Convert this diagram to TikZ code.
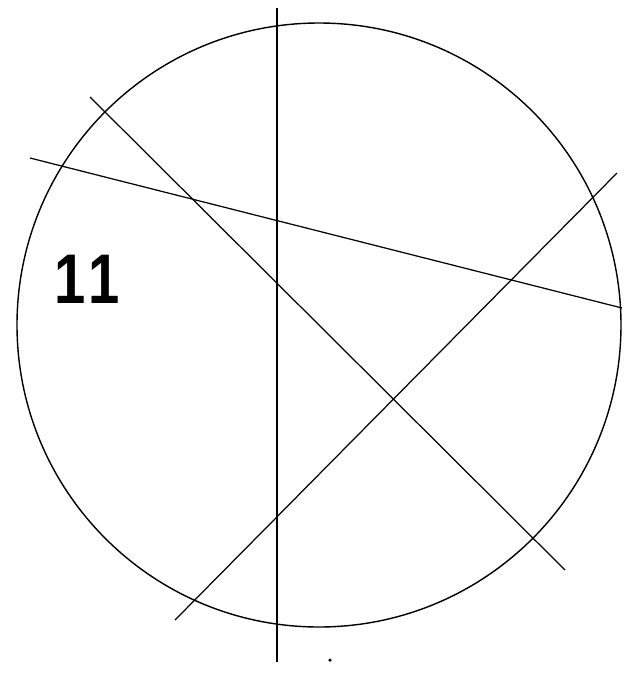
\documentclass[tikz,border=0pt]{standalone}
\usepackage{fontspec}
\setmainfont{Liberation Sans}
\begin{document}
\begin{tikzpicture}[
  x=0.02cm, y=-0.02cm,
  rim/.style={draw=black, line width=0.8pt},
  chord/.style={draw=black, line width=0.7pt},
  num/.style={font=\bfseries\fontsize{40}{40}\selectfont, inner sep=0pt},
  speck/.style={fill=black, inner sep=0pt, minimum size=2pt, circle}
]
\useasboundingbox (0,0) rectangle (626,674);

% circle and end points of the chords
\coordinate (ctr) at (319,325);
\coordinate (vtop) at (277,8);
\coordinate (vbot) at (277,662);
\coordinate (aw) at (30,158);
\coordinate (ae) at (622,308);
\coordinate (bnw) at (90,97);
\coordinate (bse) at (565,570);
\coordinate (csw) at (175,620);
\coordinate (cne) at (617,173);

\draw[rim] (ctr) circle[radius=302];

\draw[chord] (vtop) -- (vbot);
\draw[chord] (aw) -- (ae);
\draw[chord] (bnw) -- (bse);
\draw[chord] (csw) -- (cne);

\node[num] (lbl) at (87,279) {\scalebox{0.8}[1]{1\kern0.05em1}};
\node[speck] (dot) at (330,660) {};

\end{tikzpicture}
\end{document}
